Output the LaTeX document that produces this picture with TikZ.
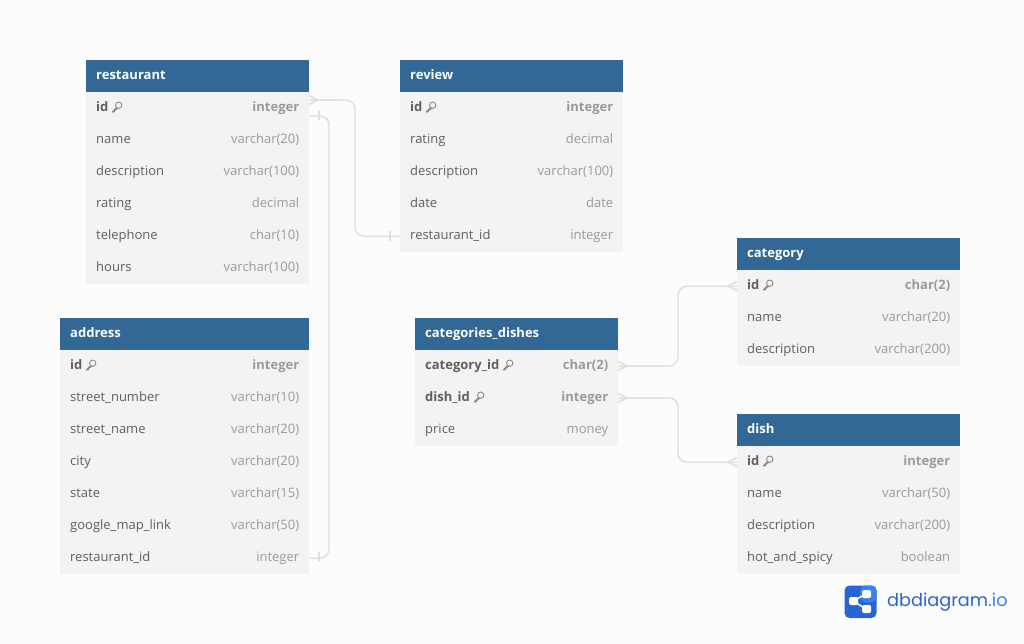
\documentclass[tikz,border=0pt]{standalone}
\usepackage{fontspec}
\setmainfont{Open Sans}
\newfontfamily\logofont{Poppins}
\definecolor{pagebg}{HTML}{FCFCFC}
\definecolor{headblue}{HTML}{316896}
\definecolor{rowgray}{HTML}{F3F3F3}
\definecolor{rowline}{HTML}{F5F5F5}
\definecolor{fieldgray}{HTML}{5F5F5F}
\definecolor{kindgray}{HTML}{9A9A9A}
\definecolor{linkgray}{HTML}{DEDEDE}
\definecolor{logoblue}{HTML}{2A64D4}
\definecolor{logolight}{HTML}{3A80EE}
\tikzset{
 headcell/.style={anchor=north west, fill=headblue, text=white, font=\fontsize{13}{15}\selectfont\bfseries,
  minimum height=32pt, inner xsep=10pt, inner ysep=0pt, align=left, text height=10pt, text depth=3pt},
 rowcell/.style={anchor=north west, fill=rowgray, text=fieldgray, font=\fontsize{13}{15}\selectfont,
  minimum height=32pt, inner xsep=10pt, inner ysep=0pt, align=left, text height=10pt, text depth=3pt},
 keycell/.style={rowcell, font=\fontsize{13}{15}\selectfont\bfseries},
 link/.style={draw=linkgray, line width=1.4pt},
 crowfoot/.pic={\draw[link] (-9,-4.5) -- (0,0) -- (-9,4.5);},
 onebar/.pic={\draw[link, line width=1.2pt] (0,-4.5) -- (0,4.5);},
 keyicon/.pic={\draw[kindgray!90!black, line width=.9pt] (1.7,-3) circle (3.2) (-0.6,-0.7) -- (-4.6,3.3) -- (-4.2,4) -- (-2.6,3.6) -- (-2.2,2.4) -- (0.8,0.1);}
}
\newcommand{\kind}[1]{\hfill\textcolor{kindgray}{#1}}
\begin{document}
\begin{tikzpicture}[x=1pt,y=-1pt]
 \useasboundingbox[fill=pagebg] (0,0) rectangle (1024,644);

 % restaurant
 \node[headcell, text width=203pt] (restaurant) at (86,60) {restaurant};
 \node[keycell, text width=203pt] (restaurant-id) at (86,92) {id\kind{integer}};
 \pic at ([xshift=31pt]restaurant-id.west) {keyicon};
 \foreach \field/\type [count=\i] in {name/varchar(20), description/varchar(100), rating/decimal, telephone/char(10), hours/varchar(100)}
  \node[rowcell, text width=203pt] (restaurant-\i) at (86,{92+32*\i}) {\field\kind{\type}};

 % review
 \node[headcell, text width=203pt] (review) at (400,60) {review};
 \node[keycell, text width=203pt] (review-id) at (400,92) {id\kind{integer}};
 \pic at ([xshift=31pt]review-id.west) {keyicon};
 \foreach \field/\type [count=\i] in {rating/decimal, description/varchar(100), date/date, restaurant\_id/integer}
  \node[rowcell, text width=203pt] (review-\i) at (400,{92+32*\i}) {\field\kind{\type}};

 % address
 \node[headcell, text width=229pt] (address) at (60,318) {address};
 \node[keycell, text width=229pt] (address-id) at (60,350) {id\kind{integer}};
 \pic at ([xshift=31pt]address-id.west) {keyicon};
 \foreach \field/\type [count=\i] in {street\_number/varchar(10), street\_name/varchar(20), city/varchar(20), state/varchar(15), google\_map\_link/varchar(50), restaurant\_id/integer}
  \node[rowcell, text width=229pt] (address-\i) at (60,{350+32*\i}) {\field\kind{\type}};

 % categories_dishes
 \node[headcell, text width=183pt] (catdish) at (415,318) {categories\_dishes};
 \node[keycell, text width=183pt] (catdish-cat) at (415,350) {category\_id\kind{char(2)}};
 \pic at ([xshift=93pt]catdish-cat.west) {keyicon};
 \node[keycell, text width=183pt] (catdish-dish) at (415,382) {dish\_id\kind{integer}};
 \pic at ([xshift=64pt]catdish-dish.west) {keyicon};
 \node[rowcell, text width=183pt] (catdish-1) at (415,414) {price\kind{money}};

 % category
 \node[headcell, text width=203pt] (category) at (737,238) {category};
 \node[keycell, text width=203pt] (category-id) at (737,270) {id\kind{char(2)}};
 \pic at ([xshift=31pt]category-id.west) {keyicon};
 \foreach \field/\type [count=\i] in {name/varchar(20), description/varchar(200)}
  \node[rowcell, text width=203pt] (category-\i) at (737,{270+32*\i}) {\field\kind{\type}};

 % dish
 \node[headcell, text width=203pt] (dish) at (737,414) {dish};
 \node[keycell, text width=203pt] (dish-id) at (737,446) {id\kind{integer}};
 \pic at ([xshift=31pt]dish-id.west) {keyicon};
 \foreach \field/\type [count=\i] in {name/varchar(50), description/varchar(200), hot\_and\_spicy/boolean}
  \node[rowcell, text width=203pt] (dish-\i) at (737,{446+32*\i}) {\field\kind{\type}};

 % row separators, only the faint ones of category
 \draw[rowline, line width=.8pt] (category-1.north west) -- (category-1.north east) (category-2.north west) -- (category-2.north east);

 % connectors
 \coordinate (resto-many) at ([yshift=8pt]restaurant-id.east);
 \coordinate (resto-one) at ([yshift=-8pt]restaurant-id.east);
 \draw[link, rounded corners=9pt] (resto-many) -- (355,100) |- (review-4.west);
 \draw[link, rounded corners=9pt] (resto-one) -- (329,116) |- (address-6.east);
 \draw[link, rounded corners=9pt] (catdish-cat.east) -- (678,366) |- (category-id.west);
 \draw[link, rounded corners=9pt] (catdish-dish.east) -- (678,398) |- (dish-id.west);
 \pic at (318,100) {crowfoot};
 \pic at (627,366) {crowfoot};
 \pic at (627,398) {crowfoot};
 \pic[xscale=-1] at (728,286) {crowfoot};
 \pic[xscale=-1] at (728,462) {crowfoot};
 \pic at (319,116) {onebar};
 \pic at (390,236) {onebar};
 \pic at (319,556) {onebar};

 % logo
 \fill[logoblue, rounded corners=5pt] (844.5,585.5) rectangle (876.5,618);
 \fill[logolight, rounded corners=5pt] (860,585.5) -- (876.5,585.5) -- (876.5,602) -- (860,602) -- cycle;
 \draw[white, line width=1.5pt] (866,594) -- (853,601) -- (866,609);
 \fill[white, rounded corners=1.5pt] (849,597) rectangle (858,605);
 \fill[white, rounded corners=1.5pt] (862,590) rectangle (871,598);
 \fill[white, rounded corners=1.5pt] (862,605) rectangle (871,613);
 \node[anchor=west, inner sep=0pt, font=\logofont\fontsize{17.7}{21}\selectfont, text=logoblue] (logotext) at (887,602) {dbdiagram\textcolor{logolight}{.io}};
\end{tikzpicture}
\end{document}
